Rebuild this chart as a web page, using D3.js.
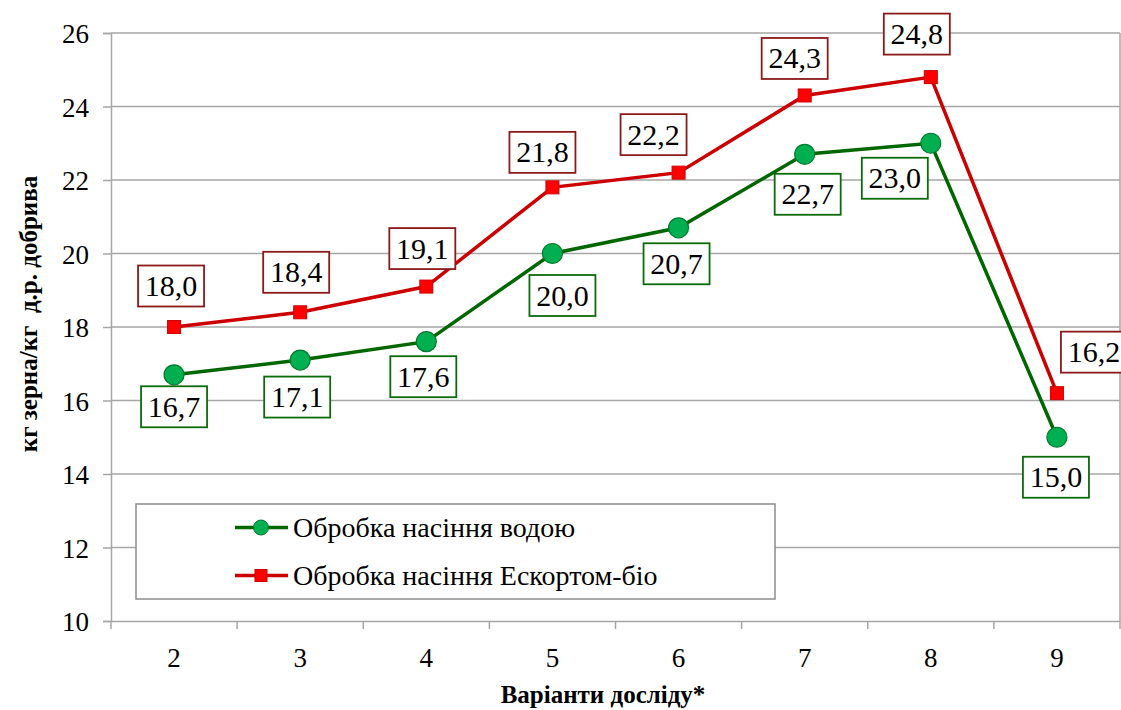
<!DOCTYPE html>
<html><head><meta charset="utf-8">
<script src="https://cdn.jsdelivr.net/npm/d3@7"></script>
<style>
@font-face { font-family: "ChartSerif"; src: local("Liberation Serif"), local("LiberationSerif"), local("Liberation Serif Regular"), local("Tinos"); font-weight: normal; }
@font-face { font-family: "ChartSerif"; src: local("Liberation Serif Bold"), local("LiberationSerif-Bold"), local("Tinos Bold"); font-weight: bold; }
</style>
</head>
<body style="margin:0"><svg id="c" width="1121" height="710"></svg>
<script>
// ---- data ----
const categories = ["2","3","4","5","6","7","8","9"];
const waterValues = [16.7, 17.1, 17.6, 20.0, 20.7, 22.7, 23.0, 15.0];
const escortValues = [18.0, 18.4, 19.1, 21.8, 22.2, 24.3, 24.8, 16.2];
const yTicks = [10, 12, 14, 16, 18, 20, 22, 24, 26];
const seriesNames = ["Обробка насіння водою", "Обробка насіння Ескортом-біо"];
const xTitle = "Варіанти досліду*";
const yTitle = "кг зерна/кг  д.р. добрива";

// ---- layout (label nudges, px) ----
const waterLabelNudge = [[0,32],[-3,37],[-3,35],[10,42],[-2,36],[3,40],[-36,35],[-1,40]];
const escortLabelNudge = [[-3,-41],[-4,-40],[-4,-38],[-10,-35],[-25,-38],[-10,-37],[-14,-43],[37,-41]];

const SERIF = '"Times New Roman", "Liberation Serif", Tinos, ChartSerif, serif';
const svg = d3.select("#c").style("font-family", SERIF);
const L = 111, R = 1120, T = 33, B = 621;
const x = d3.scaleBand().domain(categories).range([L, R]);
const y = d3.scaleLinear().domain([10, 26]).range([B, T]);
const fmt = v => v.toFixed(1).replace(".", ",");
const grid = "#a6a6a6";

function serifText(sel, size, bold) {
  sel.style("font-family", SERIF).attr("font-size", size).attr("fill", "#000");
  if (bold) sel.attr("font-weight", "bold");
  return sel;
}

// gridlines
svg.append("g").selectAll("line").data(yTicks.filter(t => t > 10)).join("line")
  .attr("x1", L).attr("x2", R).attr("y1", d => y(d)).attr("y2", d => y(d))
  .attr("stroke", grid).attr("stroke-width", 1.5);
svg.append("line").attr("x1", R).attr("x2", R).attr("y1", T).attr("y2", B)
  .attr("stroke", grid).attr("stroke-width", 1.5);

// y axis
const yAxis = svg.append("g").attr("transform", `translate(${L},0)`)
  .call(d3.axisLeft(y).tickValues(yTicks).tickSize(8).tickPadding(14).tickFormat(d => d));
yAxis.attr("font-family", null).attr("font-size", null);
yAxis.select(".domain").attr("stroke", grid).attr("stroke-width", 1.5);
yAxis.selectAll(".tick line").attr("stroke", grid).attr("stroke-width", 1.5);
serifText(yAxis.selectAll("text"), 27).attr("dy", "0.36em");

// x axis
const xAxis = svg.append("g").attr("transform", `translate(0,${B})`)
  .call(d3.axisBottom(x).tickSize(0).tickPadding(27));
xAxis.attr("font-family", null).attr("font-size", null);
xAxis.select(".domain").attr("stroke", grid).attr("stroke-width", 1.5);
serifText(xAxis.selectAll("text"), 27);
const bounds = categories.map(c => x(c)).concat([R]);
svg.append("g").selectAll("line").data(bounds).join("line")
  .attr("x1", d => d).attr("x2", d => d).attr("y1", B).attr("y2", B + 8)
  .attr("stroke", grid).attr("stroke-width", 1.5);

// titles
serifText(svg.append("text").attr("x", 603).attr("y", 703).attr("text-anchor", "middle"), 25, true)
  .text(xTitle);
serifText(svg.append("text").attr("transform", "translate(37,314) rotate(-90)")
  .attr("text-anchor", "middle"), 25, true)
  .style("white-space", "pre").text(yTitle);

const cx = c => x(c) + x.bandwidth() / 2;
const lineGen = vals => d3.line().x((d, i) => cx(categories[i])).y(d => y(d))(vals);

// legend box
const lg = svg.append("g");
lg.append("rect").attr("x", 136).attr("y", 504).attr("width", 639).attr("height", 95)
  .attr("fill", "#fff").attr("stroke", "#8c8c8c").attr("stroke-width", 1.5);

// series lines
svg.append("path").attr("d", lineGen(waterValues)).attr("fill", "none")
  .attr("stroke", "#006600").attr("stroke-width", 3.5);
svg.append("path").attr("d", lineGen(escortValues)).attr("fill", "none")
  .attr("stroke", "#cc0000").attr("stroke-width", 3.5);

// markers
svg.append("g").selectAll("circle").data(waterValues).join("circle")
  .attr("cx", (d, i) => cx(categories[i])).attr("cy", d => y(d)).attr("r", 10)
  .attr("fill", "#00b050").attr("stroke", "#007a2e").attr("stroke-width", 1.2);
svg.append("g").selectAll("rect").data(escortValues).join("rect")
  .attr("x", (d, i) => cx(categories[i]) - 6.5).attr("y", d => y(d) - 6.5)
  .attr("width", 13).attr("height", 13)
  .attr("fill", "#ff0000").attr("stroke", "#d00000").attr("stroke-width", 1);

// data labels
function labels(vals, nudge, border) {
  const g = svg.append("g");
  vals.forEach((v, i) => {
    const px = cx(categories[i]) + nudge[i][0], py = y(v) + nudge[i][1];
    const w = 66, h = 41;
    g.append("rect").attr("x", px - w / 2).attr("y", py - h / 2).attr("width", w).attr("height", h)
      .attr("fill", "#fff").attr("stroke", border).attr("stroke-width", 1.8);
    serifText(g.append("text").attr("x", px).attr("y", py + 10).attr("text-anchor", "middle"), 30)
      .text(fmt(v));
  });
}
labels(waterValues, waterLabelNudge, "#0b6b0b");
labels(escortValues, escortLabelNudge, "#8b1a1a");

// legend entries
const items = [
  {name: seriesNames[0], color: "#006600", type: "circle", yy: 527.5},
  {name: seriesNames[1], color: "#cc0000", type: "rect", yy: 575.5}
];
items.forEach(it => {
  lg.append("line").attr("x1", 235).attr("x2", 288).attr("y1", it.yy).attr("y2", it.yy)
    .attr("stroke", it.color).attr("stroke-width", 3.5);
  if (it.type === "circle") {
    lg.append("circle").attr("cx", 261).attr("cy", it.yy).attr("r", 7.5)
      .attr("fill", "#00b050").attr("stroke", "#007a2e").attr("stroke-width", 1);
  } else {
    lg.append("rect").attr("x", 255).attr("y", it.yy - 6).attr("width", 12).attr("height", 12)
      .attr("fill", "#ff0000").attr("stroke", "#d00000").attr("stroke-width", 1);
  }
  serifText(lg.append("text").attr("x", 293).attr("y", it.yy + 9), 28).text(it.name);
});
</script></body></html>
